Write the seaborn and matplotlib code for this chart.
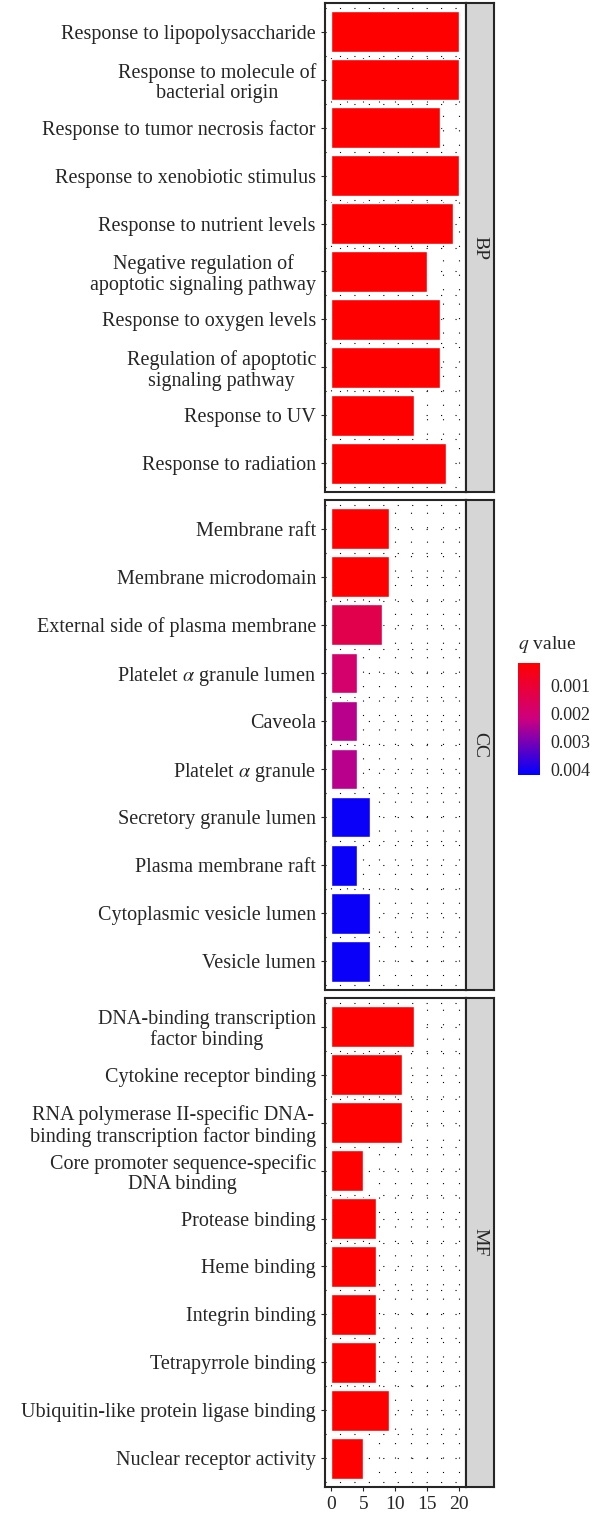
import numpy as np
import pandas as pd
import matplotlib
matplotlib.use("Agg")
import matplotlib.pyplot as plt
from matplotlib.colors import LinearSegmentedColormap, Normalize
from matplotlib.ticker import MultipleLocator
import seaborn as sns

sns.set_style("white")
plt.rcParams['font.family'] = ['Liberation Serif', 'DejaVu Serif']
plt.rcParams['mathtext.fontset'] = 'stix'

bp_terms = ["Response to lipopolysaccharide", "Response to molecule of\nbacterial origin",
            "Response to tumor necrosis factor", "Response to xenobiotic stimulus",
            "Response to nutrient levels", "Negative regulation of\napoptotic signaling pathway",
            "Response to oxygen levels", "Regulation of apoptotic\nsignaling pathway",
            "Response to UV", "Response to radiation"]
bp_counts = [20, 20, 17, 20, 19, 15, 17, 17, 13, 18]
bp_q = [0.0001, 0.0001, 0.0001, 0.0001, 0.0001, 0.0001, 0.0001, 0.0001, 0.0001, 0.0001]

cc_terms = ["Membrane raft", "Membrane microdomain", "External side of plasma membrane",
            "Platelet $\\alpha$ granule lumen", "Caveola", "Platelet $\\alpha$ granule",
            "Secretory granule lumen", "Plasma membrane raft", "Cytoplasmic vesicle lumen",
            "Vesicle lumen"]
cc_counts = [9, 9, 8, 4, 4, 4, 6, 4, 6, 6]
cc_q = [0.0002, 0.0002, 0.0014, 0.0019, 0.0024, 0.0024, 0.0041, 0.0041, 0.0041, 0.0041]

mf_terms = ["DNA-binding transcription\nfactor binding", "Cytokine receptor binding",
            "RNA polymerase II-specific DNA-\nbinding transcription factor binding",
            "Core promoter sequence-specific\nDNA binding", "Protease binding", "Heme binding",
            "Integrin binding", "Tetrapyrrole binding", "Ubiquitin-like protein ligase binding",
            "Nuclear receptor activity"]
mf_counts = [13, 11, 11, 5, 7, 7, 7, 7, 9, 5]
mf_q = [0.0001, 0.0001, 0.0001, 0.0001, 0.0001, 0.0001, 0.0001, 0.0001, 0.0001, 0.0001]

panels = [("BP", bp_terms, bp_counts, bp_q),
          ("CC", cc_terms, cc_counts, cc_q),
          ("MF", mf_terms, mf_counts, mf_q)]

cmap = LinearSegmentedColormap.from_list("q", ["#ff0000", "#cc0080", "#0000ff"])
norm = Normalize(vmin=0.0002, vmax=0.0042)

fig = plt.figure(figsize=(6, 15.25), dpi=100)
H = 1525.0
boxes = [(3, 492), (500, 990), (998, 1487)]
L, R, S = 325 / 600, 466 / 600, 494 / 600

for i, (name, terms, counts, qs) in enumerate(panels):
    top, bot = boxes[i]
    ax = fig.add_axes([L, 1 - bot / H, R - L, (bot - top) / H])
    df = pd.DataFrame({"term": terms, "count": counts})
    pal = [cmap(norm(q)) for q in qs]
    sns.barplot(data=df, y="term", x="count", hue="term", palette=pal,
                legend=False, ax=ax, width=0.85, saturation=1, zorder=3)
    ax.set_xlim(-1, 21.1)
    ax.set_ylim(9.6, -0.6)
    ax.xaxis.set_major_locator(MultipleLocator(5))
    ax.xaxis.set_minor_locator(MultipleLocator(2.5))
    ax.set_yticks(np.arange(-0.5, 10, 1), minor=True)
    ax.grid(which="both", linestyle=(0, (1, 12)), color="black", linewidth=0.8, zorder=0)
    ax.set_xlabel("")
    ax.set_ylabel("")
    ax.tick_params(axis="y", labelsize=14.5, length=3, which="major", left=True)
    ax.tick_params(axis="y", which="minor", length=0)
    for t in ax.get_yticklabels():
        t.set_horizontalalignment("right")
        t.set_multialignment("center")
        t.set_linespacing(1.1)
    if i < 2:
        ax.set_xticklabels([])
        ax.tick_params(axis="x", length=0)
    else:
        ax.tick_params(axis="x", labelsize=14, length=3, bottom=True)
    for s in ax.spines.values():
        s.set_linewidth(1.5)
    sax = fig.add_axes([R, 1 - bot / H, S - R, (bot - top) / H])
    sax.set_facecolor("#d6d6d6")
    sax.set_xticks([])
    sax.set_yticks([])
    for s in sax.spines.values():
        s.set_linewidth(1.5)
    sax.text(0.5, 0.5, name, rotation=-90, ha="center", va="center",
             fontsize=14, transform=sax.transAxes)

cax = fig.add_axes([518 / 600, 1 - 775 / H, 22 / 600, 112 / H])
sm = plt.cm.ScalarMappable(norm=norm, cmap=cmap)
cb = fig.colorbar(sm, cax=cax, ticks=[0.001, 0.002, 0.003, 0.004])
cb.ax.invert_yaxis()
cb.ax.set_yticklabels(["0.001", "0.002", "0.003", "0.004"])
cb.ax.tick_params(labelsize=13, length=4, color="white")
cb.outline.set_visible(False)
fig.text(518 / 600, 1 - 655 / H, "$q$ value", fontsize=14, ha="left", va="bottom")

fig.savefig("out.png", dpi=100)
